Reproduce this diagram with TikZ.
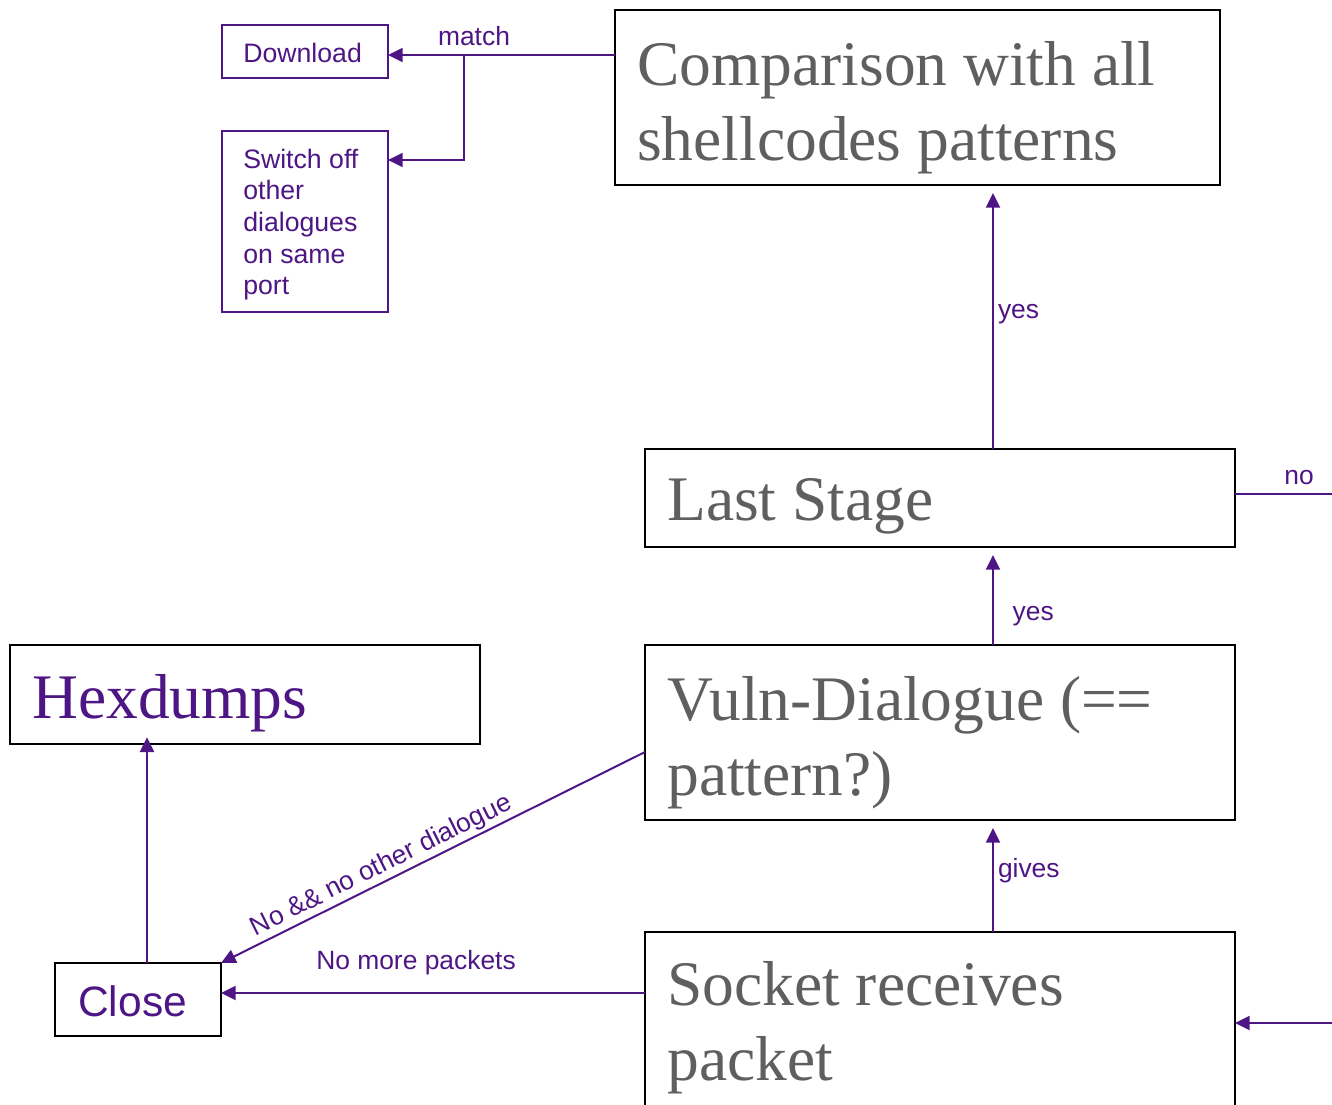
\documentclass[tikz,border=0pt]{standalone}
\usepackage{fontspec}
\setmainfont{Liberation Serif}
\setsansfont{Liberation Sans}
\usetikzlibrary{arrows.meta,calc}
\definecolor{flowpurple}{RGB}{78,22,132}
\definecolor{boxgray}{RGB}{95,95,95}
\newdimen\pxu \pxu=0.75pt
% the font's own word spacing inside aligned node text
\newcommand\natspace{\spaceskip=0pt\xspaceskip=0pt\relax}

\begin{document}
\begin{tikzpicture}[x=0.75pt,y=-0.75pt,
  box/.style={draw=black,line width=1.6pt,rectangle,inner sep=0pt,outer sep=0pt,anchor=north west},
  pbox/.style={draw=flowpurple,line width=1.2pt,rectangle,inner sep=0pt,outer sep=0pt,anchor=north west},
  bigtxt/.style={anchor=base west,inner sep=0pt,text=boxgray,text width=430pt,align=left,
    font=\fontsize{47.6pt}{56.25pt}\selectfont},
  smalltxt/.style={anchor=base west,inner sep=0pt,text=flowpurple,text width=110pt,align=left,
    font=\sffamily\fontsize{20pt}{23.8pt}\selectfont},
  lbl/.style={inner sep=0pt,text=flowpurple,font=\sffamily\fontsize{19.8pt}{23pt}\selectfont},
  line/.style={draw=flowpurple,line width=1.5pt},
  arr/.style={line,-{Triangle[length=11pt,width=10.5pt]}}]
\clip (0,0) rectangle (1332,1104);

% boxes
\node[box,minimum width=605\pxu,minimum height=175\pxu] (cmp) at (615,10) {};
\node[box,minimum width=590\pxu,minimum height=98\pxu] (last) at (645,449) {};
\node[box,minimum width=590\pxu,minimum height=175\pxu] (vuln) at (645,645) {};
\node[box,minimum width=590\pxu,minimum height=200\pxu] (sock) at (645,932) {};
\node[box,minimum width=470\pxu,minimum height=99\pxu] (hex) at (10,645) {};
\node[box,minimum width=166\pxu,minimum height=73\pxu] (close) at (55,963) {};
\node[pbox,minimum width=166\pxu,minimum height=53\pxu] (dl) at (222,25) {};
\node[pbox,minimum width=166\pxu,minimum height=181\pxu] (sw) at (222,131) {};

% box texts
\node[bigtxt] (cmptxt) at (637,85) {\natspace Comparison with all\\shellcodes patterns};
\node[bigtxt] (lasttxt) at (667,520) {\natspace Last Stage};
\node[bigtxt] (vulntxt) at (667,720) {\natspace Vuln-Dialogue (==\\pattern?)};
\node[bigtxt] (socktxt) at (667,1005) {\natspace Socket receives\\packet};
\node[bigtxt,text=flowpurple] (hextxt) at (32,718) {Hexdumps};
\node[anchor=base west,inner sep=0pt,text=flowpurple,
  font=\sffamily\fontsize{31.9pt}{36pt}\selectfont] (closetxt) at (78,1016) {Close};
\node[smalltxt] (dltxt) at (243,62) {Download};
\node[smalltxt] (swtxt) at (243,168) {\natspace Switch off\\other\\dialogues\\on same\\port};

% match: comparison to download and switch-off
\coordinate (mj) at (464,55);
\draw[line] ($(cmp.north west)+(0,45)$) -- (mj);
\node[lbl,anchor=base] (matchlbl) at (474,45) {match};
\draw[arr] (mj) -- (mj -| dl.east);
\draw[arr] (mj) |- ($(sw.north east)+(0,29)$);

% last stage
\draw[arr,shorten >=6pt] ($(last.north west)+(348,0)$) -- node[lbl,pos=0.51,anchor=west,xshift=3pt] (yes1) {yes}
  ($(cmp.south west)+(378,0)$);
\coordinate (noend) at (1332,494);
\draw[line] ($(last.north east)+(0,45)$) -- node[lbl,pos=0.66,anchor=base,yshift=7pt] (nolbl) {no} (noend);

% vuln-dialogue
\draw[arr,shorten >=6pt] ($(vuln.north west)+(348,0)$) -- node[lbl,pos=0.29,anchor=west,xshift=14pt] (yes2) {yes}
  ($(last.south west)+(348,0)$);
\draw[arr] ($(vuln.north west)+(0,107)$) -- node[lbl,sloped,pos=0.605,anchor=south,yshift=1.5pt] (nodlg) {No \&\& no other dialogue}
  (close.north east);

% socket
\draw[arr,shorten >=6pt] ($(sock.north west)+(348,0)$) -- node[lbl,pos=0.55,anchor=west,xshift=3pt] (gives) {gives}
  ($(vuln.south west)+(348,0)$);
\draw[arr] ($(sock.north west)+(0,61)$) -- node[lbl,pos=0.54,anchor=base,yshift=18pt] (nomore) {No more packets}
  ($(close.north east)+(0,30)$);
\coordinate (inc) at (1332,1023);
\draw[arr] (inc) -- ($(sock.north east)+(0,91)$);

% close to hexdumps
\draw[arr,shorten >=-5pt] ($(close.north west)+(92,0)$) -- ($(hex.south west)+(137,0)$);
\end{tikzpicture}
\end{document}
